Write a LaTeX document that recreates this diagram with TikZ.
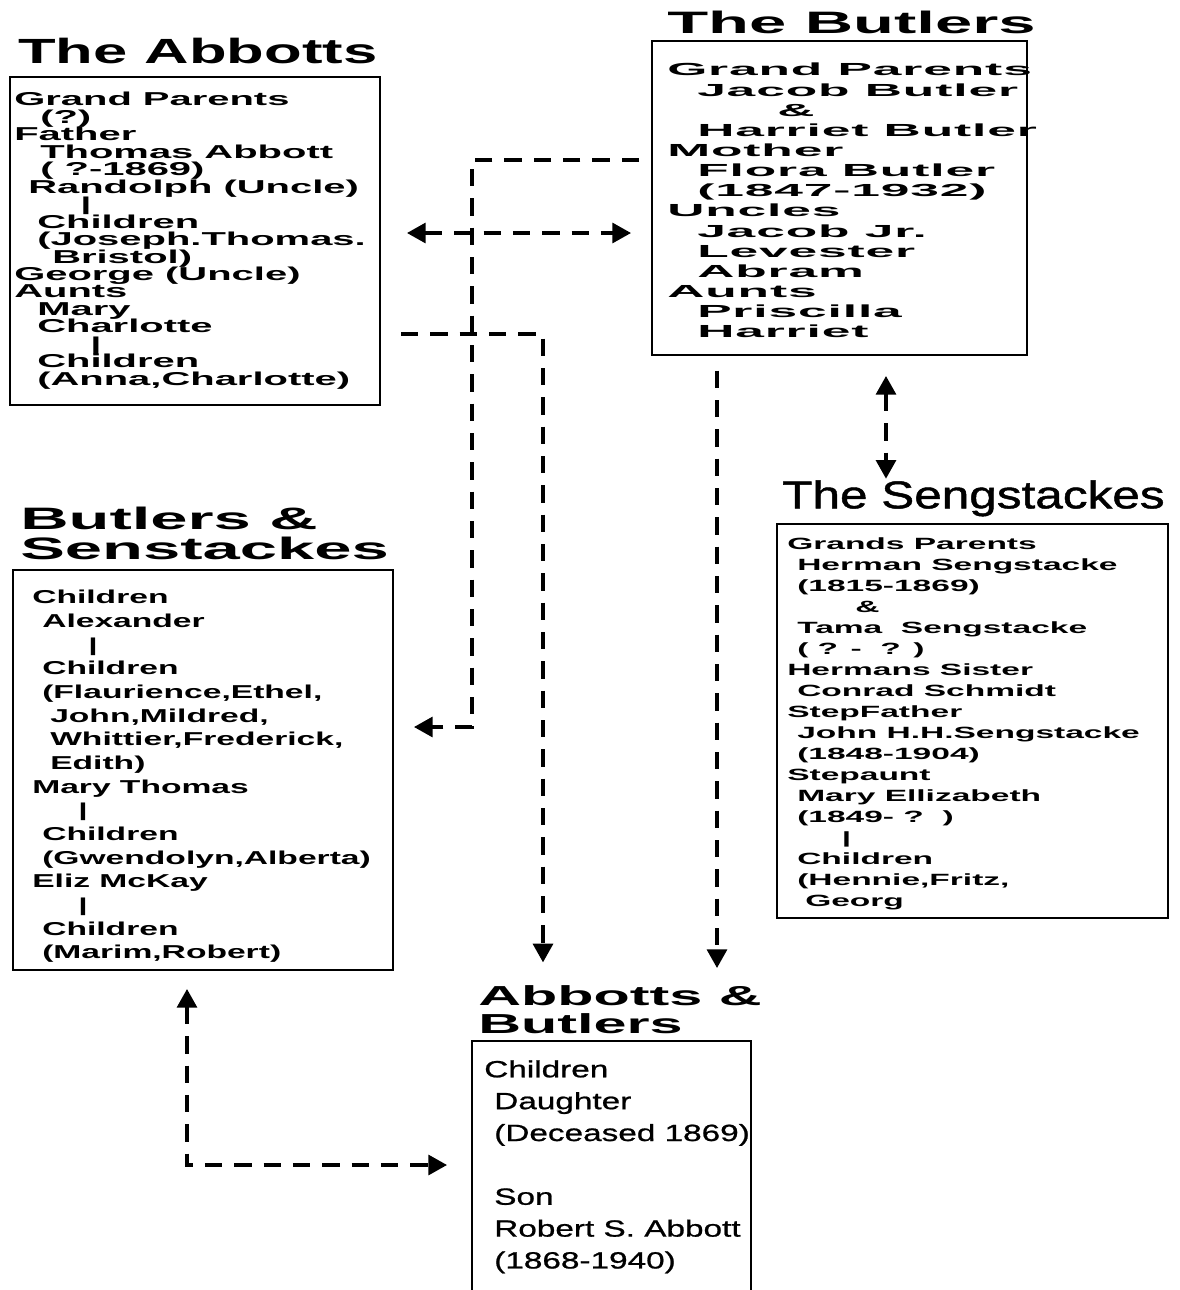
\documentclass[tikz,border=0pt]{standalone}
\usepackage{fontspec}
\setmainfont{Liberation Sans}
\newfontfamily\titlewide{Liberation Sans}[FakeStretch=2.16]
\newfontfamily\titleabb{Liberation Sans}[FakeStretch=1.76]
\newfontfamily\titleseng{Liberation Sans}[FakeStretch=1.28,FakeBold=1.2]
\newfontfamily\abbfont{Liberation Sans}[FakeStretch=2.14]
\newfontfamily\butfont{Liberation Sans}[FakeStretch=2.95,LetterSpace=5]
\newfontfamily\sengfont{Liberation Sans}[FakeStretch=2.06]
\newfontfamily\bsfont{Liberation Sans}[FakeStretch=1.8]
\newfontfamily\abbutfont{Liberation Sans}[FakeStretch=1.42,FakeBold=0.9]
\newcommand{\tightlines}{\lineskiplimit=-100pt\relax}
\usetikzlibrary{arrows.meta}

\begin{document}
\begin{tikzpicture}[x=0.75pt,y=0.75pt,yscale=-1,xscale=1,
  >={Triangle[length=14pt,width=15pt]},
  box/.style={draw, line width=1.5pt, inner sep=0pt},
  link/.style={line width=2.4pt, dash pattern=on 13pt off 9pt},
  txt/.style={anchor=north west, inner sep=0pt, align=left}]
\useasboundingbox (0,0) rectangle (1180,1290); %set diagram to the page of 1180 x 1290

%Shape: Rectangle [The Abbotts]
\node [box, minimum width=277.5pt, minimum height=246pt] (abbotts) at (195,241) {};
%Shape: Rectangle [The Butlers]
\node [box, minimum width=281.25pt, minimum height=235.5pt] (butlers) at (839.5,198) {};
%Shape: Rectangle [The Sengstackes]
\node [box, minimum width=293.25pt, minimum height=295.5pt] (sengs) at (972.5,721) {};
%Shape: Rectangle [Butlers & Senstackes]
\node [box, minimum width=285pt, minimum height=300pt] (butsen) at (203,770) {};
%Shape: Rectangle [Abbotts & Butlers], runs off the page
\node [box, minimum width=209.25pt, minimum height=201.75pt] (abbut) at (611.5,1175.5) {};

% Text Node
\node [txt, font=\titleabb\bfseries\fontsize{26.25}{26}\selectfont] (abbottstitle) at (18,38) {The Abbotts};
% Text Node
\node [txt, font=\titlewide\bfseries\fontsize{23.25}{23}\selectfont] (butlerstitle) at (667,11) {The Butlers};
% Text Node
\node [txt, font=\titleseng\fontsize{29}{29}\selectfont] (sengstitle) at (782,480) {The Sengstackes};
% Text Node
\node [txt, font=\titlewide\bfseries\fontsize{23.25}{22.5}\selectfont] (butsentitle) at (20,507) {Butlers \&\\Senstackes};
% Text Node
\node [txt, font=\titlewide\bfseries\fontsize{20.6}{21}\selectfont] (abbuttitle) at (478,985) {Abbotts \&\\Butlers};

% Text Node
\node [txt, font=\abbfont\bfseries\fontsize{14}{13.1}\selectfont\tightlines] (abbottstext) at (14,92)
  {Grand Parents\\
   \hspace*{19.5pt}(?)\\
   Father\\
   \hspace*{19.5pt}Thomas Abbott\\
   \hspace*{19.5pt}( ?-1869)\\
   \hspace*{10.5pt}Randolph (Uncle)\\
   \hspace*{49.5pt}|\\
   \hspace*{17.25pt}Children\\
   \hspace*{17.25pt}(Joseph.Thomas.\\
   \hspace*{28.5pt}Bristol)\\
   George (Uncle)\\
   Aunts\\
   \hspace*{17.25pt}Mary\\
   \hspace*{17.25pt}Charlotte\\
   \hspace*{57pt}|\\
   \hspace*{17.25pt}Children\\
   \hspace*{17.25pt}(Anna,Charlotte)};

% Text Node
\node [txt, font=\butfont\bfseries\fontsize{13.1}{15.1}\selectfont\tightlines] (butlerstext) at (667,63)
  {Grand Parents\\
   \hspace*{22.5pt}Jacob Butler\\
   \hspace*{82.5pt}\&\\
   \hspace*{22.5pt}Harriet Butler\\
   Mother\\
   \hspace*{22.5pt}Flora Butler\\
   \hspace*{22.5pt}(1847-1932)\\
   Uncles\\
   \hspace*{22.5pt}Jacob Jr.\\
   \hspace*{22.5pt}Levester\\
   \hspace*{22.5pt}Abram\\
   Aunts\\
   \hspace*{22.5pt}Priscilla\\
   \hspace*{22.5pt}Harriet};

% Text Node
\node [txt, font=\sengfont\bfseries\fontsize{12.2}{15.75}\selectfont\tightlines] (sengstext) at (787,537)
  {Grands Parents\\
   \hspace*{7.5pt}Herman Sengstacke\\
   \hspace*{7.5pt}(1815-1869)\\
   \hspace*{51pt}\&\\
   \hspace*{7.5pt}Tama\ \ Sengstacke\\
   \hspace*{7.5pt}( ? -\ \ ? )\\
   Hermans Sister\\
   \hspace*{7.5pt}Conrad Schmidt\\
   StepFather\\
   \hspace*{7.5pt}John H.H.Sengstacke\\
   \hspace*{7.5pt}(1848-1904)\\
   Stepaunt\\
   \hspace*{7.5pt}Mary Ellizabeth\\
   \hspace*{7.5pt}(1849- ?\ \ )\\
   \hspace*{41pt}|\\
   \hspace*{7.5pt}Children\\
   \hspace*{7.5pt}(Hennie,Fritz,\\
   \hspace*{13.5pt}Georg};

% Text Node
\node [txt, font=\bsfont\bfseries\fontsize{14}{17.75}\selectfont\tightlines] (butsentext) at (32,590)
  {Children\\
   \hspace*{7.5pt}Alexander\\
   \hspace*{42pt}|\\
   \hspace*{7.5pt}Children\\
   \hspace*{7.5pt}(Flaurience,Ethel,\\
   \hspace*{13.5pt}John,Mildred,\\
   \hspace*{13.5pt}Whittier,Frederick,\\
   \hspace*{13.5pt}Edith)\\
   Mary Thomas\\
   \hspace*{34.5pt}|\\
   \hspace*{7.5pt}Children\\
   \hspace*{7.5pt}(Gwendolyn,Alberta)\\
   Eliz McKay\\
   \hspace*{34.5pt}|\\
   \hspace*{7.5pt}Children\\
   \hspace*{7.5pt}(Marim,Robert)};

% Text Node
\node [txt, font=\abbutfont\fontsize{17.6}{23.9}\selectfont\tightlines] (abbuttext) at (484,1060)
  {Children\\
   \hspace*{7.5pt}Daughter\\
   \hspace*{7.5pt}(Deceased 1869)\\
   \mbox{}\\
   \hspace*{7.5pt}Son\\
   \hspace*{7.5pt}Robert S. Abbott\\
   \hspace*{7.5pt}(1868-1940)};

%Bend points of the connectors
\coordinate (k1) at (472,160);
\coordinate (k2) at (472,727);
\coordinate (k3) at (520,233);
\coordinate (k4) at (543,334);
\coordinate (k5) at (717,600);
\coordinate (k6) at (886,420);
\coordinate (k7) at (187,1165);

%Straight Lines
\draw [link, ->, shorten <=9pt, shorten >=15pt] (butlers.west |- k1) -- (k1) -- (k2) -- (butsen.east |- k2);
%Straight Lines
\draw [link, <->, shorten <=19.5pt, shorten >=15pt] (abbotts.east |- k3) -- (butlers.west |- k3);
%Straight Lines
\draw [link, ->, shorten <=15pt, shorten >=17pt] (abbotts.east |- k4) -- (k4) -- (k4 |- abbuttitle.north);
%Straight Lines
\draw [link, ->, shorten <=11pt, shorten >=12.75pt] (k5 |- butlers.south) -- (k5 |- abbuttitle.north);
%Straight Lines
\draw [link, <->, shorten <=15pt, shorten >=1pt] (k6 |- butlers.south) -- (k6 |- sengstitle.north);
%Straight Lines
\draw [link, <->, shorten <=13.5pt, shorten >=18pt] (butsen.south -| k7) -- (k7) -- (abbut.west |- k7);

\end{tikzpicture}
\end{document}
